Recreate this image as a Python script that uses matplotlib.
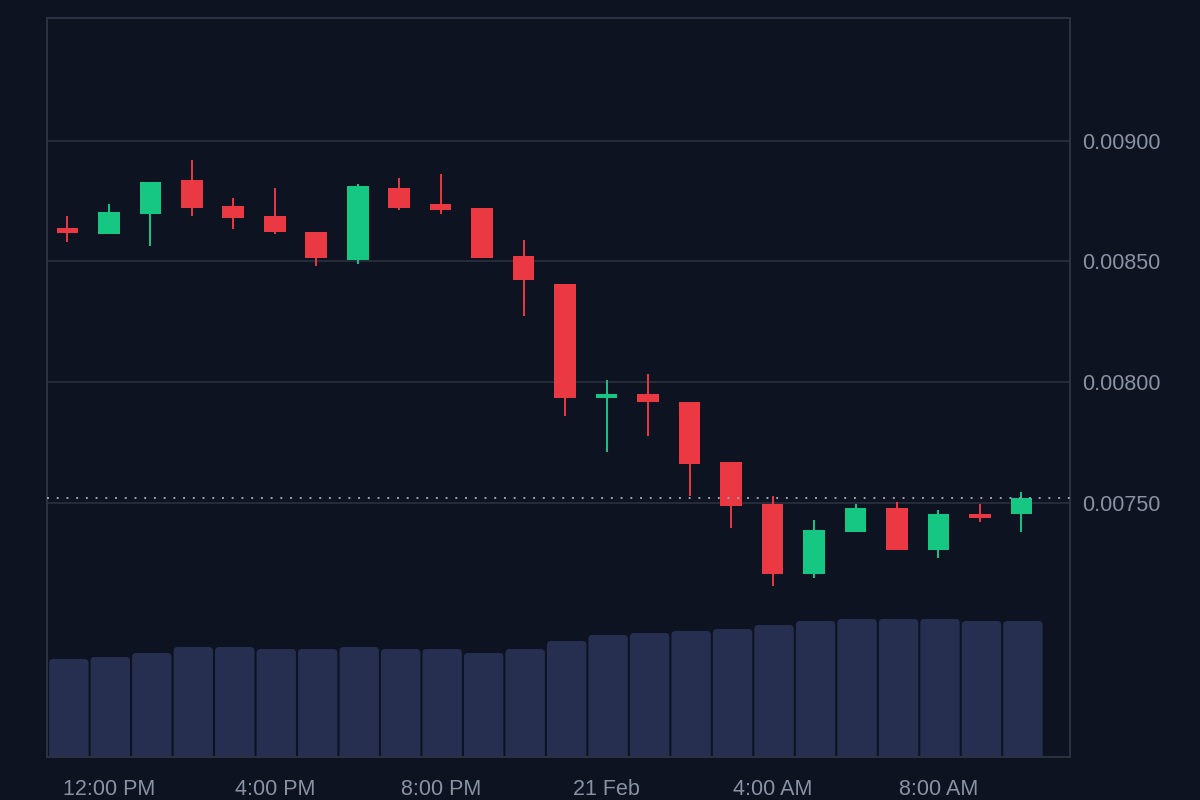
import matplotlib
matplotlib.use("Agg")
import matplotlib.pyplot as plt
import matplotlib.dates as mdates
from matplotlib.patches import FancyBboxPatch
import pandas as pd
import numpy as np

# ---- data (hourly candles) ----
times = pd.date_range("2024-02-20 11:00", periods=24, freq="h")
opens = [0.0086375, 0.0086127, 0.0086955, 0.0088364, 0.0087287, 0.0086872, 0.0086210, 0.0085050,
         0.0088032, 0.0087370, 0.0087204, 0.0085215, 0.0084056, 0.0079333, 0.0079499, 0.0079167,
         0.0076682, 0.0074942, 0.0072042, 0.0073782, 0.0074776, 0.0073036, 0.0074528, 0.0074528]
highs = [0.0086872, 0.0087370, 0.0088281, 0.0089192, 0.0087618, 0.0088032, 0.0086210, 0.0088198,
         0.0088447, 0.0088612, 0.0087204, 0.0085878, 0.0084056, 0.0080079, 0.0080327, 0.0079167,
         0.0076682, 0.0075273, 0.0074279, 0.0074942, 0.0075025, 0.0074693, 0.0074942, 0.0075439]
lows = [0.0085795, 0.0086127, 0.0085630, 0.0086872, 0.0086334, 0.0086127, 0.0084801, 0.0084884,
        0.0087121, 0.0086955, 0.0085133, 0.0082730, 0.0078587, 0.0077096, 0.0077759, 0.0075273,
        0.0073948, 0.0071545, 0.0071877, 0.0073782, 0.0073036, 0.0072705, 0.0074196, 0.0073782]
closes = [0.0086168, 0.0087038, 0.0088281, 0.0087204, 0.0086790, 0.0086210, 0.0085133, 0.0088115,
          0.0087204, 0.0087121, 0.0085133, 0.0084221, 0.0079333, 0.0079499, 0.0079167, 0.0076599,
          0.0074859, 0.0072042, 0.0073865, 0.0074776, 0.0073036, 0.0074528, 0.0074362, 0.0075191]
volumes = [49, 50, 52, 55, 55, 54, 54, 55, 54, 54, 52, 54,
           58, 61, 62, 63, 64, 66, 68, 69, 69, 69, 68, 68]

price_ticks = [0.0075, 0.0080, 0.0085, 0.0090]
tick_times = ["2024-02-20 12:00", "2024-02-20 16:00", "2024-02-20 20:00",
              "2024-02-21 00:00", "2024-02-21 04:00", "2024-02-21 08:00"]
tick_labels = ["12:00 PM", "4:00 PM", "8:00 PM", "21 Feb", "4:00 AM", "8:00 AM"]

# ---- style ----
BG = "#0d1320"
GRID = "#262c3a"
FRAME = "#2c3242"
TEXT = "#8a91a3"
UP = "#16c784"
DOWN = "#ea3943"
VOL = "#262f50"

plt.rcParams["font.family"] = ["Liberation Sans", "DejaVu Sans"]

fig = plt.figure(figsize=(12, 8), dpi=100, facecolor=BG)
pos = [47 / 1200, 1 - 757 / 800, (1070 - 47) / 1200, (757 - 18) / 800]

x = mdates.date2num(times)
step = 1 / 24.0
xlim = (x[0] - 0.49 * step, x[0] + 24.17 * step)

# volume axis (behind)
axv = fig.add_axes(pos, facecolor=BG)
vol_top = 369.5
axv.set_xlim(*xlim)
axv.set_ylim(0, vol_top)
px_x = (xlim[1] - xlim[0]) / (1070 - 47)   # data units per pixel (x)
px_y = vol_top / (757 - 18)                 # data units per pixel (y)
bw = step * 0.95
r = 4 * px_x
for xi, v in zip(x, volumes):
    patch = FancyBboxPatch((xi - bw / 2 + 1.5 * px_x, -10), bw, v + 10,
                           boxstyle=f"round,pad=0,rounding_size={r}",
                           mutation_aspect=px_y / px_x,
                           facecolor=VOL, edgecolor="none", zorder=1)
    axv.add_patch(patch)
axv.axis("off")

# price axis (front)
ax = fig.add_axes(pos, facecolor="none")
ax.set_xlim(*xlim)
ax.set_ylim(0.0064461, 0.0095075)

body_w = step * 0.52
for xi, o, h, l, c in zip(x, opens, highs, lows, closes):
    col = UP if c >= o else DOWN
    ax.vlines(xi, l, h, color=col, linewidth=1.4, zorder=3)
    lo, hi = min(o, c), max(o, c)
    ax.bar(xi, max(hi - lo, 0.0000025), bottom=lo, width=body_w, color=col,
           linewidth=0, zorder=4)

ax.axhline(closes[-1], color="#9aa0ae", linestyle=(0, (1, 4)), linewidth=1.4, zorder=5)

ax.set_yticks(price_ticks)
ax.set_yticklabels([f"{v:.5f}" for v in price_ticks])
ax.yaxis.tick_right()
ax.grid(axis="y", color=GRID, linewidth=1.4, zorder=0)
ax.grid(axis="x", visible=False)

ax.set_xticks(mdates.date2num(pd.to_datetime(tick_times)))
ax.set_xticklabels(tick_labels)

ax.tick_params(axis="y", length=0, pad=9, labelsize=15.5, labelcolor=TEXT)
ax.tick_params(axis="x", length=0, pad=16, labelsize=15.5, labelcolor=TEXT)
for s in ax.spines.values():
    s.set_color(FRAME)
    s.set_linewidth(1.4)

fig.savefig("out.png", dpi=100, facecolor=BG)
